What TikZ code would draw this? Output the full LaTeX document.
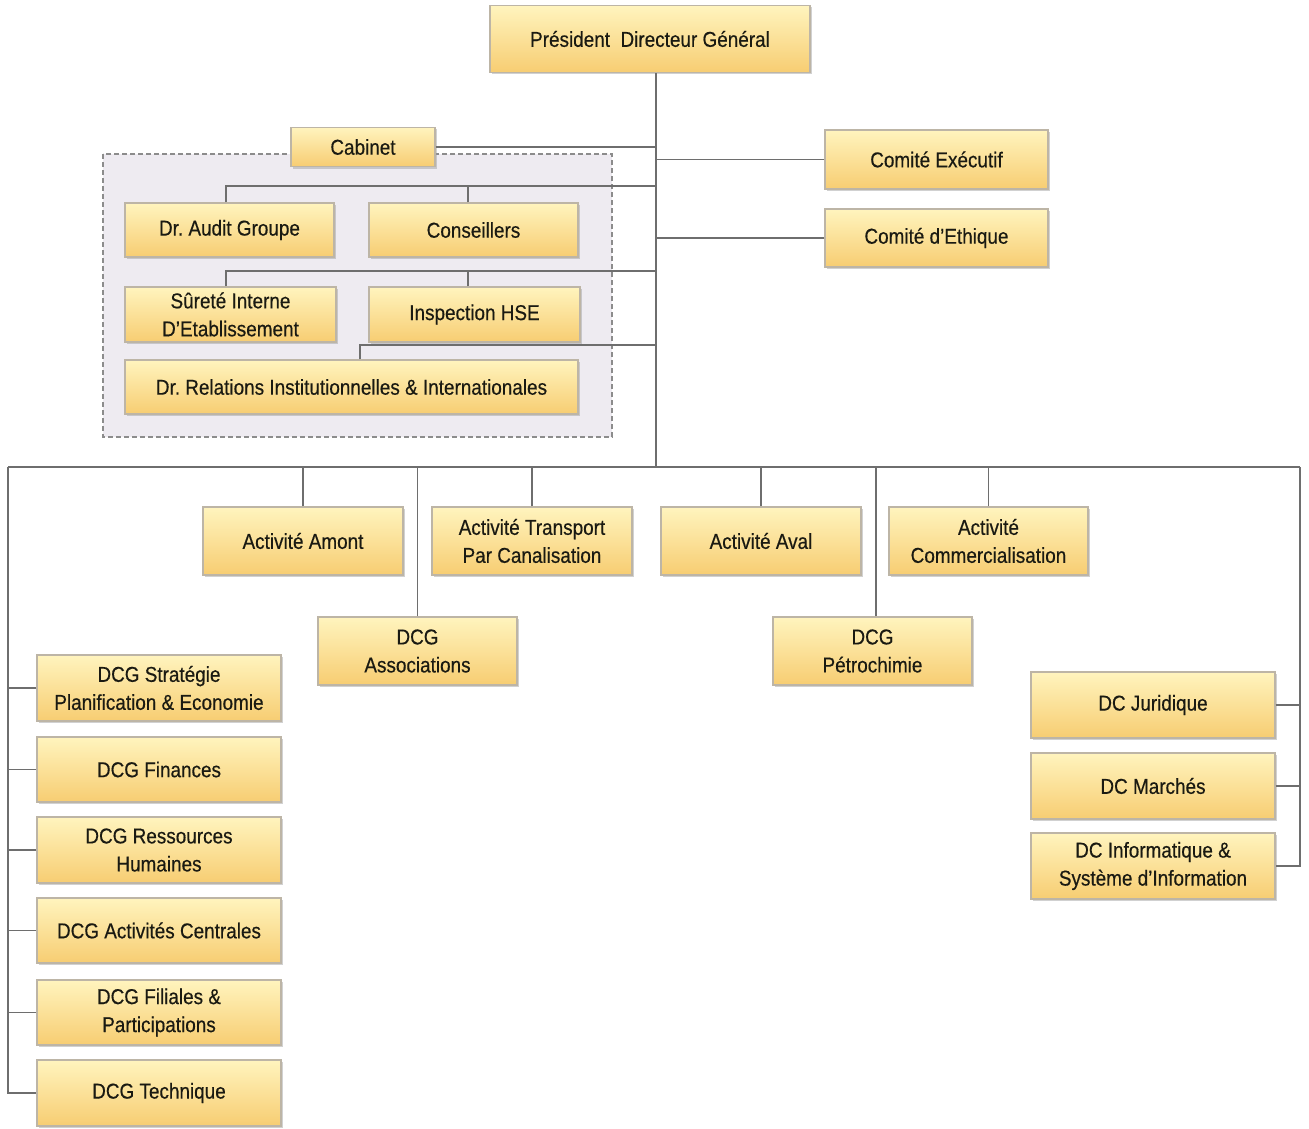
\documentclass[tikz,border=0pt]{standalone}
\usepackage{fontspec}
\setmainfont[FakeStretch=0.88,FakeBold=0.4]{Liberation Sans}
\usetikzlibrary{shadows}
\definecolor{boxtop}{HTML}{FFF4BE}
\definecolor{boxbot}{HTML}{F7CD72}
\definecolor{boxline}{HTML}{BDB5A6}
\definecolor{conn}{HTML}{6E6E6E}
\definecolor{cabfill}{HTML}{EEEBF1}
\definecolor{cabline}{HTML}{8C8C8C}
\definecolor{txt}{HTML}{1A1A12}
\tikzset{
  box/.style={draw=boxline, line width=1.3pt, top color=boxtop, bottom color=boxbot,
    align=center, inner sep=0pt, text=txt, font=\fontsize{21.5}{28}\selectfont,
    drop shadow={shadow xshift=1.5pt, shadow yshift=-2pt, fill=black!40, opacity=0.45}},
  link/.style={draw=conn, line width=1.7pt},
}
\begin{document}
\frenchspacing
\begin{tikzpicture}[x=1pt,y=-1pt]
\useasboundingbox (0,0) rectangle (1309,1129);
\fill[white] (0,0) rectangle (1309,1129);

% cabinet area
\draw[fill=cabfill, draw=cabline, line width=1.2pt, dash pattern=on 5pt off 3pt] (103,154) rectangle (612,437);

% coordinates
\coordinate (tb) at (656,467);
\coordinate (bl) at (8,467);
\coordinate (br) at (1300,467);
\coordinate (r1) at (656,186);
\coordinate (r2) at (656,271);
\coordinate (r3) at (656,345);

% top
\node[box, minimum width=320, minimum height=67] (pdg) at (650,39) {Président~~Directeur Général};
\node[box, minimum width=144, minimum height=39] (cab) at (363,147) {Cabinet};
\node[box, minimum width=223, minimum height=59] (ce) at (936.5,159.5) {Comité Exécutif};
\node[box, minimum width=223, minimum height=58] (cet) at (936.5,238) {Comité d'Ethique};

\node[box, minimum width=209, minimum height=54] (audit) at (229.5,230) {Dr. Audit Groupe};
\node[box, minimum width=209, minimum height=54] (cons) at (473.5,230) {Conseillers};
\node[box, minimum width=211, minimum height=55] (sur) at (230.5,314.5) {Sûreté Interne\\D'Etablissement};
\node[box, minimum width=211, minimum height=55] (hse) at (474.5,314.5) {Inspection HSE};
\node[box, minimum width=453, minimum height=54] (rel) at (351.5,387) {Dr. Relations Institutionnelles \& Internationales};

% activities
\node[box, minimum width=200, minimum height=68] (amont) at (303,541) {Activité Amont};
\node[box, minimum width=200, minimum height=68] (trans) at (532,541) {Activité Transport\\Par Canalisation};
\node[box, minimum width=200, minimum height=68] (aval) at (761,541) {Activité Aval};
\node[box, minimum width=199, minimum height=68] (comm) at (988.5,541) {Activité\\Commercialisation};
\node[box, minimum width=199, minimum height=68] (asso) at (417.5,651) {DCG\\Associations};
\node[box, minimum width=199, minimum height=68] (petro) at (872.5,651) {DCG\\Pétrochimie};

% left column
\node[box, minimum width=244, minimum height=66] (strat) at (159,688) {DCG Stratégie\\Planification \& Economie};
\node[box, minimum width=244, minimum height=65] (fin) at (159,769.5) {DCG Finances};
\node[box, minimum width=244, minimum height=66] (rh) at (159,850) {DCG Ressources\\Humaines};
\node[box, minimum width=244, minimum height=65] (ac) at (159,930.5) {DCG Activités Centrales};
\node[box, minimum width=244, minimum height=65] (fil) at (159,1012.5) {DCG Filiales \&\\Participations};
\node[box, minimum width=244, minimum height=66] (tech) at (159,1093) {DCG Technique};

% right column
\node[box, minimum width=244, minimum height=66] (jur) at (1153,705) {DC Juridique};
\node[box, minimum width=244, minimum height=66] (mar) at (1153,786) {DC Marchés};
\node[box, minimum width=244, minimum height=66] (info) at (1153,866) {DC Informatique \&\\Système d'Information};

% connectors
\begin{scope}[link]
\draw (pdg.south -| tb) -- (tb);
\draw (cab.east) -- (cab.east -| tb);
\draw (ce.west) -- (ce.west -| tb);
\draw (cet.west) -- (cet.west -| tb);
\draw ([xshift=-3.5pt]audit.north) |- (r1);
\draw ([xshift=-5.5pt]cons.north) -- ([xshift=-5.5pt]cons.north |- r1);
\draw ([xshift=-4.5pt]sur.north) |- (r2);
\draw ([xshift=-6.5pt]hse.north) -- ([xshift=-6.5pt]hse.north |- r2);
\draw ([xshift=8.5pt]rel.north) |- (r3);
\draw (bl) -- (br);
\draw (amont.north) -- (amont.north |- bl);
\draw (trans.north) -- (trans.north |- bl);
\draw (aval.north) -- (aval.north |- bl);
\draw (comm.north) -- (comm.north |- bl);
\draw (asso.north) -- (asso.north |- bl);
\draw ([xshift=3.5pt]petro.north) -- ([xshift=3.5pt]petro.north |- bl);
\draw (bl) |- (tech.west);
\draw (strat.west) -- (strat.west -| bl);
\draw (fin.west) -- (fin.west -| bl);
\draw (rh.west) -- (rh.west -| bl);
\draw (ac.west) -- (ac.west -| bl);
\draw (fil.west) -- (fil.west -| bl);
\draw (br) |- (info.east);
\draw (jur.east) -- (jur.east -| br);
\draw (mar.east) -- (mar.east -| br);
\end{scope}
\end{tikzpicture}
\end{document}
